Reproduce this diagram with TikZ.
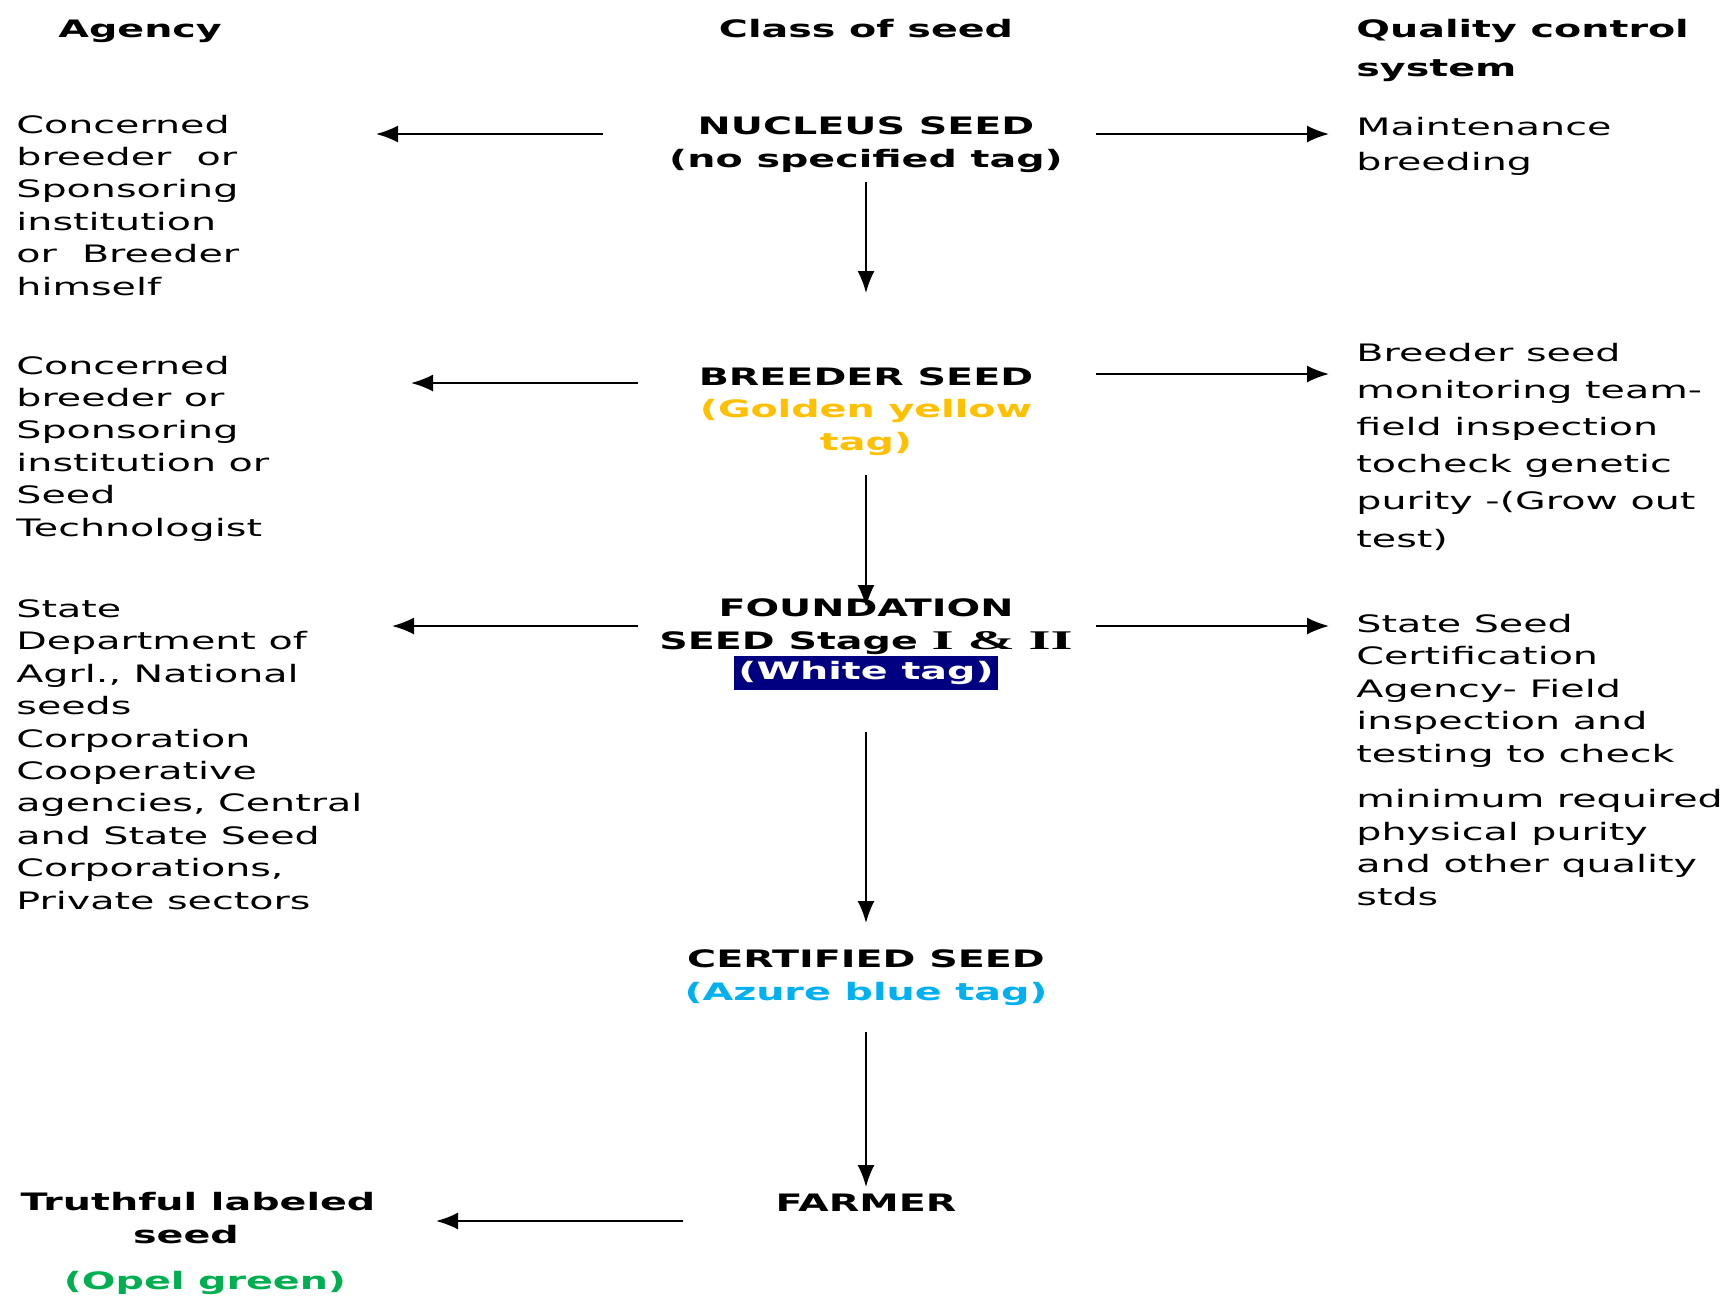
\documentclass[tikz,border=0pt]{standalone}
\usepackage{fontspec}
\setmainfont{DejaVu Sans}[FakeStretch=1.65]
\newfontfamily\stageserif{Liberation Serif}[FakeStretch=2.1]
\usepackage{tikz}
\usetikzlibrary{arrows.meta}
\definecolor{goldtag}{HTML}{FFC000}
\definecolor{azuretag}{HTML}{00B0F0}
\definecolor{navytag}{HTML}{000080}
\definecolor{opeltag}{HTML}{00B050}

\begin{document}
\begin{tikzpicture}[x=0.5pt,y=-0.5pt,
txt/.style={inner sep=0pt,font=\fontsize{12}{16.2}\selectfont},
agy/.style={txt,anchor=base west,align=left},
cls/.style={txt,anchor=base,align=center,font=\bfseries\fontsize{12}{16.2}\selectfont},
arr/.style={-{Latex[length=11pt,width=8.5pt]},line width=1pt}]
\useasboundingbox (0,0) rectangle (1732,1298);
% column heads (base = last line)
\node[cls,anchor=base west] (hagy) at (58,37) {Agency};
\node[cls] (hcls) at (866,37) {Class of seed};
\node[cls,anchor=base west,align=left,font=\bfseries\fontsize{12}{19.3}\selectfont] (hqc) at (1356,76) {Quality control\\system};
% agency column
\node[agy] (agy1) at (16,295) {Concerned\\breeder\ \ or\\Sponsoring\\institution\\or\ \ Breeder\\himself};
\node[agy] (agy2) at (16,536) {Concerned\\breeder or\\Sponsoring\\institution or\\Seed\\Technologist};
\node[agy] (agy3) at (16,909) {State\\Department of\\Agrl., National\\seeds\\Corporation\\Cooperative\\agencies, Central\\and State Seed\\Corporations,\\Private sectors};
\node[cls] (truth) at (198,1243) {Truthful labeled\\seed\hspace*{12pt}};
\node[cls,text=opeltag] (opel) at (205,1289) {(Opel green)};
% class of seed column
\node[cls] (nucleus) at (866,167) {NUCLEUS SEED\\(no specified tag)};
\node[cls] (breeder) at (866,450) {BREEDER SEED\\\textcolor{goldtag}{(Golden yellow}\\\textcolor{goldtag}{tag)}};
\node[cls] (found) at (866,649) {FOUNDATION\\SEED Stage {\stageserif\fontsize{13.5}{16.2}\selectfont I}\ {\stageserif\fontsize{13.5}{16.2}\selectfont\&}\ {\stageserif\fontsize{13.5}{16.2}\selectfont II}};
\node[cls,anchor=center,fill=navytag,text=white,inner xsep=2pt,minimum height=17pt] (white) at (866,673) {(White tag)};
\node[cls] (certif) at (866,1000) {CERTIFIED SEED\\\textcolor{azuretag}{(Azure blue tag)}};
\node[cls] (farmer) at (866,1211) {FARMER};
% quality control column
\node[agy,font=\fontsize{12}{17.5}\selectfont] (qc1) at (1356,170) {Maintenance\\breeding};
\node[agy,font=\fontsize{12}{18.6}\selectfont] (qc2) at (1356,547) {Breeder seed\\monitoring team-\\field inspection\\tocheck genetic\\purity -(Grow out\\test)};
\node[agy] (qc3) at (1356,762) {State Seed\\Certification\\Agency- Field\\inspection and\\testing to check};
\node[agy] (qc4) at (1356,905) {minimum required\\physical purity\\and other quality\\stds};
% arrow ends
\coordinate (nucW) at (603,134);  \coordinate (agyA) at (376,134);
\coordinate (nucE) at (1096,134); \coordinate (qcA) at (1329,134);
\coordinate (nucS) at (866,182);  \coordinate (breN) at (866,293);
\coordinate (breW) at (638,383);  \coordinate (agyB) at (411,383);
\coordinate (breE) at (1096,374); \coordinate (qcB) at (1329,374);
\coordinate (breS) at (866,475);  \coordinate (fouN) at (866,607);
\coordinate (fouW) at (638,626);  \coordinate (agyC) at (392,626);
\coordinate (fouE) at (1096,626); \coordinate (qcC) at (1329,626);
\coordinate (fouS) at (866,732);  \coordinate (cerN) at (866,923);
\coordinate (cerS) at (866,1032); \coordinate (farN) at (866,1187);
\coordinate (farW) at (683,1221); \coordinate (truA) at (436,1221);
\foreach \a/\b in {nucW/agyA,nucE/qcA,nucS/breN,breW/agyB,breE/qcB,breS/fouN,fouW/agyC,fouE/qcC,fouS/cerN,cerS/farN,farW/truA}
  \draw[arr] (\a) -- (\b);
\end{tikzpicture}
\end{document}
